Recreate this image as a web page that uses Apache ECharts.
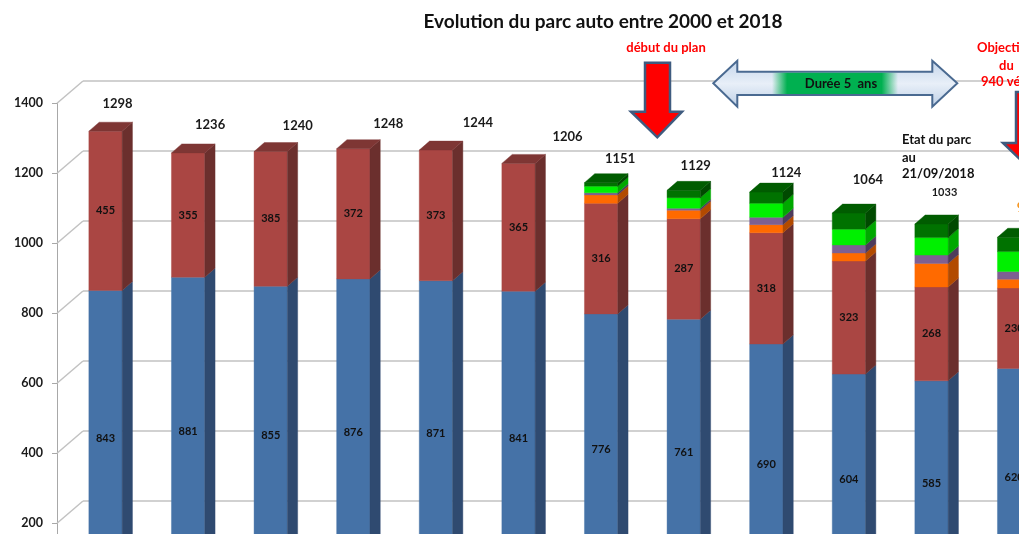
<!DOCTYPE html>
<html><head><meta charset="utf-8">
<script src="https://cdn.jsdelivr.net/npm/echarts@6/dist/echarts.min.js"></script>
<style>html,body{margin:0;padding:0;background:#fff}#c{width:1019px;height:534px}</style>
</head><body><div id="c"></div>
<script>
// ---------- data ----------
const categories = ['2000','2002','2004','2006','2008','2010','2012','2014','2015','2016','2018','Objectif'];
const blue      = [843, 881, 855, 876, 871, 841, 776, 761, 690, 604, 585, 620];
const red       = [455, 355, 385, 372, 373, 365, 316, 287, 318, 323, 268, 230];
const orange    = [0, 0, 0, 0, 0, 0, 24, 24, 23, 23, 67, 25];
const purple    = [0, 0, 0, 0, 0, 0, 6, 6, 21, 23, 24, 22];
const green     = [0, 0, 0, 0, 0, 0, 19, 30, 40, 45, 50, 57];
const darkGreen = [0, 0, 0, 0, 0, 0, 10, 21, 32, 46, 39, 41];
const totals    = [1298, 1236, 1240, 1248, 1244, 1206, 1151, 1129, 1124, 1064, 1033, 995];
const yTickLabels = [0, 200, 400, 600, 800, 1000, 1200, 1400];

// ---------- layout / style (not data) ----------
const totalLabelNudge = [[12,-27],[22,-28],[27,-26],[35,-25],[42,-27],[49,-27],[19,-24],[12,-25],[20,-19],[19,-33],[13,-31],[14,-29]];
const totalLabelSize  = [13,13,13,13,13,13,13,13,13,13,11,13];
const totalLabelColor = ['#1a1a1a','#1a1a1a','#1a1a1a','#1a1a1a','#1a1a1a','#1a1a1a','#1a1a1a','#1a1a1a','#1a1a1a','#1a1a1a','#1a1a1a','#F7941D'];

const stack = [blue, red, orange, purple, green, darkGreen];
const names = ['Bleu','Rouge','Orange','Violet','Vert','Vert foncé'];
const faces = [
  {front:'#4572A7', side:'#2F4A70', top:'#3A5F8C', label:true},
  {front:'#AA4643', side:'#6B2F2D', top:'#7E3634', label:true},
  {front:'#FF6A00', side:'#B24A00', top:'#D85A00', label:false},
  {front:'#7E6092', side:'#4E3B5C', top:'#654C75', label:false},
  {front:'#00F000', side:'#00A800', top:'#00C800', label:false},
  {front:'#007200', side:'#004A00', top:'#005C00', label:false}
];
const FONT = 'Lato, "Open Sans", sans-serif';

function segmentSeries(k) {
  const f = faces[k];
  return {
    type: 'custom', name: names[k], xAxisIndex: 0, yAxisIndex: 0, z: 3,
    data: stack[k].map((v, i) => [i, v]),
    renderItem(params, api) {
      const i = api.value(0), v = api.value(1);
      if (!v) return;
      let base = 0;
      for (let j = 0; j < k; j++) base += stack[j][i];
      const pB = api.coord([i, base]);
      const pT = api.coord([i, base + v]);
      const band = api.size([1, 0])[0];
      const w = band * 0.403, dx = w * 0.31, dy = -9;
      const xL = pB[0] - w / 2, xR = pB[0] + w / 2;
      const children = [
        {type:'rect', shape:{x:xL, y:pT[1], width:w, height:pB[1]-pT[1]}, style:{fill:f.front, stroke:f.front, lineWidth:0.4}},
        {type:'polygon', shape:{points:[[xR,pB[1]],[xR+dx,pB[1]+dy],[xR+dx,pT[1]+dy],[xR,pT[1]]]}, style:{fill:f.side, stroke:f.side, lineWidth:0.4}}
      ];
      let isTop = true;
      for (let j = k + 1; j < stack.length; j++) if (stack[j][i]) isTop = false;
      if (isTop) children.push({type:'polygon', shape:{points:[[xL,pT[1]],[xL+dx,pT[1]+dy],[xR+dx,pT[1]+dy],[xR,pT[1]]]}, style:{fill:f.top, stroke:f.top, lineWidth:0.4}});
      if (f.label) children.push({type:'text', style:{text:String(v), x:pB[0], y:(pB[1]+pT[1])/2, align:'center', verticalAlign:'middle', font:'bold 11px ' + FONT, fill:'#111'}});
      return {type:'group', children};
    }
  };
}

const series = stack.map((_, k) => segmentSeries(k));
series.push({
  type:'custom', name:'Total', xAxisIndex:0, yAxisIndex:0, z:4,
  data: totals.map((v, i) => [i, v]),
  renderItem(params, api) {
    const i = api.value(0), v = api.value(1);
    const p = api.coord([i, v]);
    const n = totalLabelNudge[i];
    return {type:'text', style:{text:String(v), x:p[0]+n[0], y:p[1]+n[1], align:'center', verticalAlign:'middle', font:'bold ' + totalLabelSize[i] + 'px ' + FONT, fill: totalLabelColor[i]}};
  }
});
// perspective lines of the left wall, one per tick
series.push({
  type:'custom', name:'mur', xAxisIndex:2, yAxisIndex:2, z:1, silent:true,
  data: yTickLabels.map(v => [0, v]),
  renderItem(params, api) {
    const v = api.value(1);
    const p = api.coord([0, v]);
    const q = api.coord([1, v]);
    return {type:'line', shape:{x1:p[0], y1:p[1], x2:q[0], y2:p[1]-22.3}, style:{stroke:'#C2C2C2', lineWidth:1.5}};
  }
});

const chart = echarts.init(document.getElementById('c'), null, {renderer:'canvas'});
chart.setOption({
  animation: false,
  backgroundColor: '#ffffff',
  grid: [
    {left: 64.2, right: -36.4, top: 95.5, bottom: -51.5, outerBoundsMode: 'none'},
    {left: 83, right: -60, top: 81, bottom: -37, outerBoundsMode: 'none'},
    {left: 57, width: 26, top: 103.3, bottom: -59.3, outerBoundsMode: 'none'}
  ],
  xAxis: [
    {gridIndex:0, type:'category', data:categories, show:false},
    {gridIndex:1, type:'value', min:0, max:1, show:false},
    {gridIndex:2, type:'value', min:0, max:1, show:false}
  ],
  yAxis: [
    {gridIndex:0, type:'value', min:0, max:1400, show:false},
    {gridIndex:1, type:'value', min:0, max:1400, interval:200,
      axisLine:{show:false}, axisTick:{show:false}, axisLabel:{show:false},
      splitLine:{show:true, lineStyle:{color:'#C2C2C2', width:1.5}}},
    {gridIndex:2, type:'value', min:0, max:1400, interval:200, position:'left',
      axisLine:{show:true, lineStyle:{color:'#A8A8A8', width:1}},
      axisTick:{show:true, length:5, lineStyle:{color:'#A8A8A8'}},
      axisLabel:{margin:14, fontFamily:FONT, fontWeight:'bold', fontSize:12.5, color:'#1a1a1a',
        formatter: v => yTickLabels.indexOf(v) >= 0 ? String(v) : ''},
      splitLine:{show:false}}
  ],
  series,
  graphic: [
    {type:'text', z:10, style:{text:'Evolution du parc auto entre 2000 et 2018', x:603, y:22, align:'center', verticalAlign:'middle', font:'bold 19px ' + FONT, fill:'#111'}},
    {type:'text', z:10, style:{text:'début du plan', x:666, y:48, align:'center', verticalAlign:'middle', font:'bold 13px ' + FONT, fill:'#FF0000'}},
    {type:'polygon', z:10, shape:{points:[[645,62.7],[670,62.7],[670,111.7],[682,111.7],[657.3,137.3],[631,111.7],[645,111.7]]},
      style:{fill:'#FF0000', stroke:'#3F5B7F', lineWidth:2.5, lineJoin:'miter'}},
    {type:'polygon', z:10, shape:{points:[[713.3,83.3],[737.3,60.7],[737.3,71.7],[932.3,71.7],[932.3,60.7],[957.3,83.3],[932.3,106.7],[932.3,95],[737.3,95],[737.3,106.7]]},
      style:{fill:new echarts.graphic.LinearGradient(0,0,0,1,[{offset:0,color:'#C2D4EA'},{offset:0.5,color:'#E8EFF8'},{offset:1,color:'#BCCFE6'}]), stroke:'#4A6A91', lineWidth:2, lineJoin:'miter'}},
    {type:'rect', z:11, shape:{x:772, y:72.7, width:126, height:21.3},
      style:{fill:new echarts.graphic.LinearGradient(0,0,1,0,[{offset:0,color:'rgba(0,176,80,0)'},{offset:0.12,color:'rgba(0,176,80,1)'},{offset:0.87,color:'rgba(0,176,80,1)'},{offset:1,color:'rgba(0,176,80,0)'}])}},
    {type:'text', z:12, style:{text:'Durée 5  ans', x:841, y:84, align:'center', verticalAlign:'middle', font:'bold 13px ' + FONT, fill:'#111'}},
    {type:'text', z:10, style:{text:'Etat du parc', x:902, y:140, align:'left', verticalAlign:'middle', font:'bold 13px ' + FONT, fill:'#111'}},
    {type:'text', z:10, style:{text:'au', x:902, y:158, align:'left', verticalAlign:'middle', font:'bold 13px ' + FONT, fill:'#111'}},
    {type:'text', z:10, style:{text:'21/09/2018', x:902, y:174, align:'left', verticalAlign:'middle', font:'bold 13px ' + FONT, fill:'#111'}},
    {type:'polygon', z:9, shape:{points:[[1016,92],[1042,92],[1042,143],[1055,143],[1029,168],[1003,143],[1016,143]]},
      style:{fill:'#FF0000', stroke:'#3F5B7F', lineWidth:2.5, lineJoin:'miter'}},
    {type:'text', z:10, style:{text:'Objectif', x:977, y:48, align:'left', verticalAlign:'middle', font:'bold 13px ' + FONT, fill:'#FF0000'}},
    {type:'text', z:10, style:{text:'du', x:999, y:66, align:'left', verticalAlign:'middle', font:'bold 13px ' + FONT, fill:'#FF0000'}},
    {type:'text', z:10, style:{text:'940 véhicules', x:981, y:82, align:'left', verticalAlign:'middle', font:'bold 13px ' + FONT, fill:'#FF0000'}}
  ]
});
</script></body></html>
